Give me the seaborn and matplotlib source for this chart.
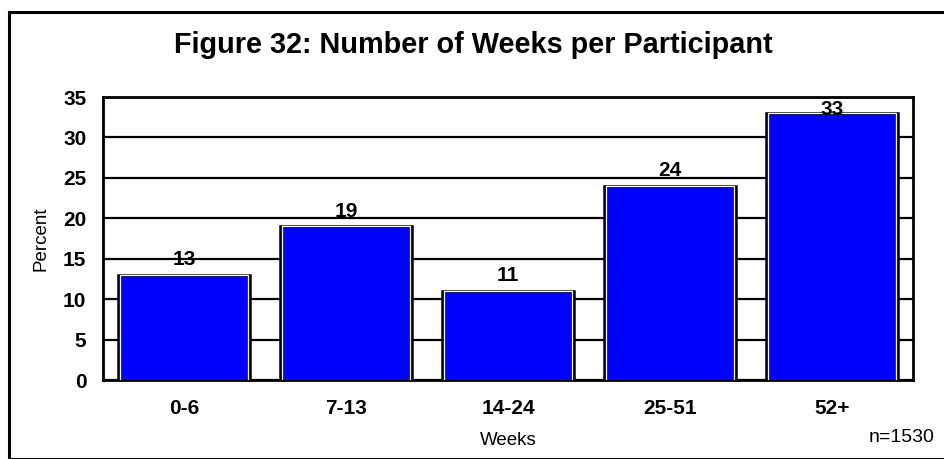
import matplotlib
matplotlib.use("Agg")
import matplotlib.pyplot as plt
import seaborn as sns
import pandas as pd
from matplotlib.patches import Rectangle

categories = ["0-6", "7-13", "14-24", "25-51", "52+"]
percents = [13, 19, 11, 24, 33]
yticks = [0, 5, 10, 15, 20, 25, 30, 35]

sns.set_theme(style="white")
plt.rcParams['font.family'] = ['Liberation Sans', 'DejaVu Sans']
plt.rcParams['text.color'] = 'black'
plt.rcParams['axes.labelcolor'] = 'black'

df = pd.DataFrame({"Weeks": categories, "Percent": percents})

fig = plt.figure(figsize=(9.45, 4.59), dpi=100)
ax = fig.add_axes([103/945, 1 - 380/459, (913 - 103)/945, (380 - 97)/459])

# outer frame
fig.patches.append(Rectangle((9/945, 0), 1.0, 1 - 12/459, transform=fig.transFigure,
                             fill=False, edgecolor="black", linewidth=2.2, zorder=0))

ax.set_ylim(0, 35)
ax.set_yticks(yticks)
ax.yaxis.grid(True, color="black", linewidth=1.6)
ax.set_axisbelow(True)

sns.barplot(data=df, x="Weeks", y="Percent", color="#0000FF", saturation=1,
            width=0.815, edgecolor="black", linewidth=1.8, ax=ax, zorder=2)
# white inner highlight
sns.barplot(data=df, x="Weeks", y="Percent", color="#0000FF", saturation=1,
            width=0.79, edgecolor="white", linewidth=0.9, fill=False, ax=ax, zorder=3)

for i, v in enumerate(percents):
    ax.text(i, min(v + 1.9, 33.4), str(v), ha="center", va="center",
            fontsize=15, fontweight="bold", color="black", zorder=5)

for s in ax.spines.values():
    s.set_visible(True)
    s.set_color("black")
    s.set_linewidth(2)

ax.tick_params(axis="both", length=0, labelsize=15, colors="black")
ax.tick_params(axis="y", pad=12)
ax.tick_params(axis="x", pad=14)
for lbl in ax.get_xticklabels() + ax.get_yticklabels():
    lbl.set_fontweight("bold")

ax.set_xlabel("Weeks", fontsize=13.5, labelpad=10)
ax.set_ylabel("Percent", fontsize=13.5, labelpad=10)

fig.text(473/945, 1 - 45/459, "Figure 32: Number of Weeks per Participant",
         ha="center", va="center", fontsize=20.8, fontweight="bold", color="black")
fig.text(935/945, 1 - 438/459, "n=1530", ha="right", va="center", fontsize=14, color="black")

fig.savefig("out.png", dpi=100)
